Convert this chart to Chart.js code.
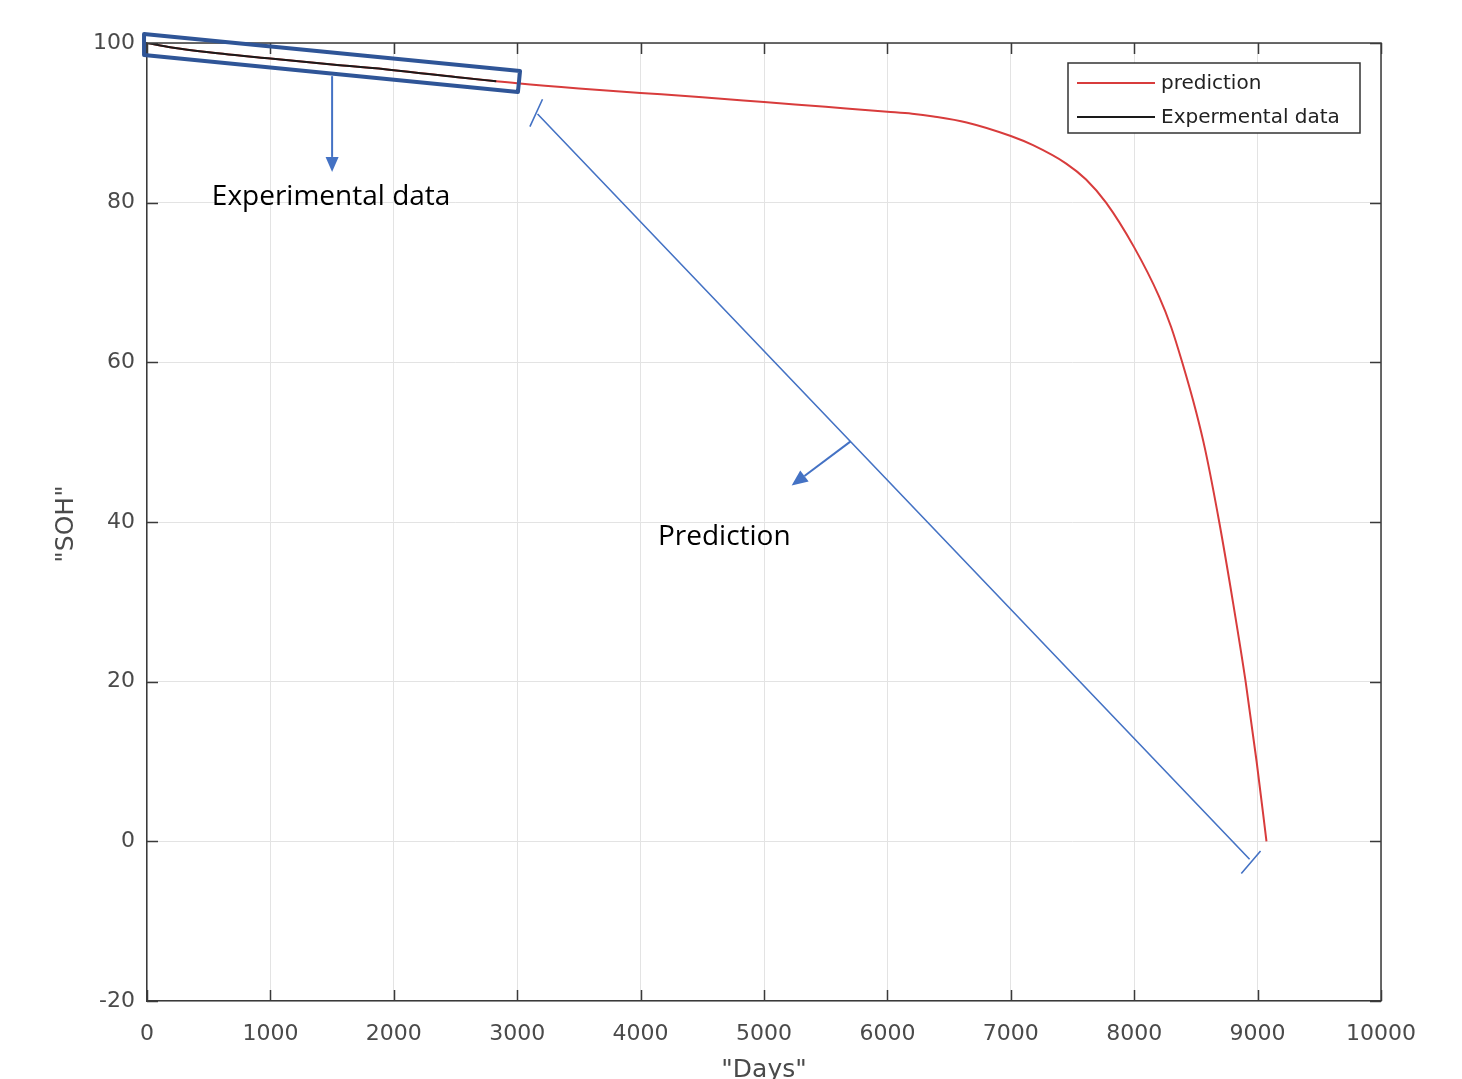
<!DOCTYPE html>
<html>
<head>
<meta charset="utf-8">
<title>SOH prediction</title>
<script src="https://cdn.jsdelivr.net/npm/chart.js@4.4.1/dist/chart.umd.min.js"></script>
<style>
  html, body { margin: 0; padding: 0; background: #fff; }
  #wrap { width: 1462px; height: 1079px; }
</style>
</head>
<body>
<div id="wrap"><canvas id="soh" width="1462" height="1079"></canvas></div>
<script>
// Prediction curve (days, SOH %)
const predDays = [0, 200, 500, 1000, 1500, 2000, 2500, 3000, 3500, 4000, 4500, 5000, 5500, 6000, 6200,
  6374, 6642, 7000, 7180, 7449, 7610, 7772, 8000, 8200, 8300, 8389, 8500, 8576, 8689, 8800, 8903, 8992, 9072];
const predSOH = [100, 99.45, 98.85, 98.05, 97.3, 96.6, 95.75, 94.95, 94.3, 93.75, 93.2, 92.6, 92.0, 91.4, 91.15,
  90.8, 90.05, 88.35, 87.2, 84.9, 82.9, 80.0, 74.4, 68.3, 64.4, 60.0, 53.9, 49.0, 40.0, 30.0, 20.0, 10.0, 0];

// Experimental data (days, SOH %)
const expDays = [0, 200, 500, 1000, 1500, 2000, 2500, 2830];
const expSOH = [100, 99.45, 98.85, 98.05, 97.3, 96.6, 95.75, 95.2];

// Axis ticks
const xTicks = [0, 1000, 2000, 3000, 4000, 5000, 6000, 7000, 8000, 9000, 10000];
const yTicks = [-20, 0, 20, 40, 60, 80, 100];

const seriesLabels = ['prediction', 'Expermental data'];
const seriesColors = ['#d83c3c', '#1a1a1a'];

// Annotation shapes, in data units (days, SOH)
const boxCorners = [[-24, 101.13], [3023, 96.5], [3006, 93.87], [-24, 98.5]];
const expArrow = { from: [1500, 95.85], to: [1500, 83.85] };
const expLabel = { text: 'Experimental data', at: [1492, 79.7] };
const bracketLine = { from: [3165, 91.1], to: [8935, -2.25] };
const bracketStartTick = [[3103, 89.52], [3205, 92.95]];
const bracketEndTick = [[8868, -4.04], [9024, -1.21]];
const predArrow = { from: [5702, 50.1], to: [5224, 44.56] };
const predLabel = { text: 'Prediction', at: [4678, 37.17] };

const TEXT_FONT = '"DejaVu Sans", "Liberation Sans", Arial, sans-serif';
const NOTE_FONT = '"Open Sans", "Noto Sans", sans-serif';

function toXY(days, vals) {
  return days.map((d, i) => ({ x: d, y: vals[i] }));
}

function arrow(ctx, x0, y0, x1, y1, head, width) {
  const ang = Math.atan2(y1 - y0, x1 - x0);
  const bx = x1 - head * Math.cos(ang), by = y1 - head * Math.sin(ang);
  ctx.beginPath();
  ctx.moveTo(x0, y0);
  ctx.lineTo(bx, by);
  ctx.stroke();
  ctx.beginPath();
  ctx.moveTo(x1, y1);
  ctx.lineTo(bx + width / 2 * Math.sin(ang), by - width / 2 * Math.cos(ang));
  ctx.lineTo(bx - width / 2 * Math.sin(ang), by + width / 2 * Math.cos(ang));
  ctx.closePath();
  ctx.fill();
}

const overlay = {
  id: 'overlay',
  afterDraw(chart) {
    const { ctx, chartArea: a, scales: { x, y } } = chart;
    const px = d => x.getPixelForValue(d);
    const py = v => y.getPixelForValue(v);
    ctx.save();

    // box on top/right, MATLAB-style inward ticks on all sides
    ctx.strokeStyle = '#3a3a3a';
    ctx.lineWidth = 1.5;
    ctx.beginPath();
    ctx.moveTo(a.left, a.top); ctx.lineTo(a.right, a.top); ctx.lineTo(a.right, a.bottom);
    xTicks.forEach(t => {
      const xx = Math.round(px(t)) + 0.5;
      ctx.moveTo(xx, a.bottom); ctx.lineTo(xx, a.bottom - 11);
      ctx.moveTo(xx, a.top); ctx.lineTo(xx, a.top + 11);
    });
    yTicks.forEach(t => {
      const yy = Math.round(py(t)) + 0.5;
      ctx.moveTo(a.left, yy); ctx.lineTo(a.left + 11, yy);
      ctx.moveTo(a.right, yy); ctx.lineTo(a.right - 11, yy);
    });
    ctx.stroke();

    // axis titles
    ctx.fillStyle = '#4a4a4a';
    ctx.font = '25px ' + TEXT_FONT;
    ctx.textAlign = 'center';
    ctx.textBaseline = 'alphabetic';
    ctx.fillText('"Days"', (a.left + a.right) / 2, a.bottom + 76);
    ctx.save();
    ctx.translate(a.left - 74, (a.top + a.bottom) / 2 + 2);
    ctx.rotate(-Math.PI / 2);
    ctx.fillText('"SOH"', 0, 0);
    ctx.restore();

    // legend
    const lx = a.right - 313, ly = a.top + 20, lw = 292, lh = 70;
    ctx.fillStyle = '#fff';
    ctx.fillRect(lx, ly, lw, lh);
    ctx.strokeStyle = '#333';
    ctx.lineWidth = 1.5;
    ctx.strokeRect(lx, ly, lw, lh);
    ctx.font = '20px ' + TEXT_FONT;
    ctx.textAlign = 'left';
    ctx.textBaseline = 'middle';
    chart.data.datasets.forEach((ds, i) => {
      const yy = ly + 20 + i * 34;
      ctx.strokeStyle = ds.borderColor;
      ctx.lineWidth = 2;
      ctx.beginPath();
      ctx.moveTo(lx + 9, yy); ctx.lineTo(lx + 87, yy);
      ctx.stroke();
      ctx.fillStyle = '#222';
      ctx.fillText(ds.label, lx + 93, yy + 1);
    });

    // annotation: rounded box around experimental data
    ctx.strokeStyle = '#2f5597';
    ctx.lineWidth = 4;
    ctx.lineJoin = 'round';
    ctx.beginPath();
    boxCorners.forEach((c, i) => {
      const X = px(c[0]), Y = py(c[1]);
      if (i === 0) ctx.moveTo(X, Y); else ctx.lineTo(X, Y);
    });
    ctx.closePath();
    ctx.stroke();

    // annotation arrows and bracket
    ctx.strokeStyle = '#4472c4';
    ctx.fillStyle = '#4472c4';
    ctx.lineWidth = 2;
    ctx.lineJoin = 'miter';
    arrow(ctx, px(expArrow.from[0]), py(expArrow.from[1]), px(expArrow.to[0]), py(expArrow.to[1]), 15, 13);
    arrow(ctx, px(predArrow.from[0]), py(predArrow.from[1]), px(predArrow.to[0]), py(predArrow.to[1]), 16, 14);
    ctx.lineWidth = 1.6;
    ctx.beginPath();
    ctx.moveTo(px(bracketLine.from[0]), py(bracketLine.from[1]));
    ctx.lineTo(px(bracketLine.to[0]), py(bracketLine.to[1]));
    [bracketStartTick, bracketEndTick].forEach(t => {
      ctx.moveTo(px(t[0][0]), py(t[0][1]));
      ctx.lineTo(px(t[1][0]), py(t[1][1]));
    });
    ctx.stroke();

    // annotation labels
    ctx.fillStyle = '#000';
    ctx.font = '28px ' + NOTE_FONT;
    ctx.textAlign = 'center';
    ctx.textBaseline = 'alphabetic';
    [expLabel, predLabel].forEach(l => ctx.fillText(l.text, px(l.at[0]), py(l.at[1])));

    ctx.restore();
  }
};

new Chart(document.getElementById('soh'), {
  type: 'line',
  data: {
    datasets: [
      {
        label: seriesLabels[0],
        data: toXY(predDays, predSOH),
        borderColor: seriesColors[0],
        borderWidth: 2,
        pointRadius: 0,
        cubicInterpolationMode: 'monotone',
        fill: false,
        order: 1
      },
      {
        label: seriesLabels[1],
        data: toXY(expDays, expSOH),
        borderColor: seriesColors[1],
        borderWidth: 2,
        pointRadius: 0,
        cubicInterpolationMode: 'monotone',
        fill: false,
        order: 0
      }
    ]
  },
  options: {
    responsive: false,
    animation: false,
    devicePixelRatio: 1,
    layout: { padding: { left: 0, top: 43, right: 81, bottom: 0 } },
    plugins: {
      legend: { display: false },
      tooltip: { enabled: false }
    },
    scales: {
      x: {
        type: 'linear',
        min: 0,
        max: 10000,
        afterFit: s => { s.height = 78; },
        afterBuildTicks: s => { s.ticks = xTicks.map(v => ({ value: v })); },
        ticks: {
          padding: 20,
          color: '#4a4a4a',
          font: { family: TEXT_FONT, size: 22 },
          maxRotation: 0,
          autoSkip: false,
          callback: v => String(v)
        },
        grid: { color: '#e3e3e3', lineWidth: 1, drawTicks: false },
        border: { color: '#3a3a3a', width: 1.5 }
      },
      y: {
        type: 'linear',
        min: -20,
        max: 100,
        afterFit: s => { s.width = 147; },
        afterBuildTicks: s => { s.ticks = yTicks.map(v => ({ value: v })); },
        ticks: {
          padding: 12,
          color: '#4a4a4a',
          font: { family: TEXT_FONT, size: 22 },
          callback: v => String(v)
        },
        grid: { color: '#e3e3e3', lineWidth: 1, drawTicks: false },
        border: { color: '#3a3a3a', width: 1.5 }
      }
    }
  },
  plugins: [overlay]
});
</script>
</body>
</html>
